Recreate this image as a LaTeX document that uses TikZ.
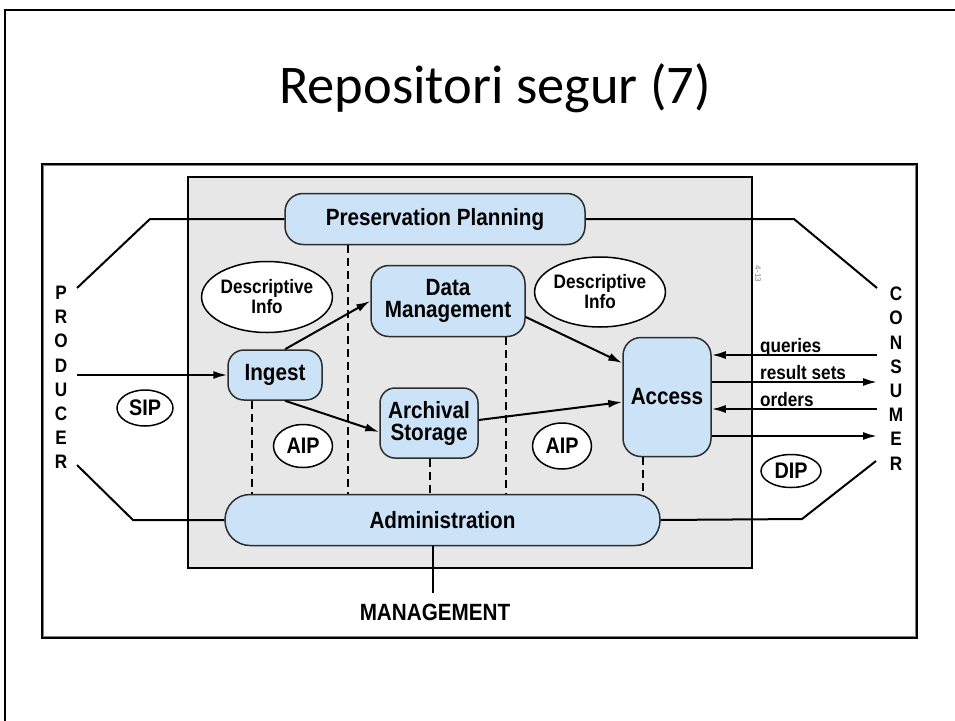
\documentclass[tikz,border=0pt]{standalone}
\usepackage{fontspec}
\setmainfont{Liberation Sans}
\newfontfamily\dfont{Liberation Sans}[FakeStretch=0.88]
\newfontfamily\titlefont{Carlito}
\usetikzlibrary{shapes.geometric,arrows.meta}
\definecolor{boxblue}{RGB}{204,226,246}
\definecolor{panelgray}{RGB}{231,231,231}
\definecolor{edgegray}{RGB}{45,45,45}
\tikzset{
  func/.style={draw=edgegray, line width=1.5pt, fill=boxblue, align=center,
    font={\dfont\bfseries\fontsize{23.5}{22}\selectfont}, inner sep=0pt},
  info/.style={ellipse, draw=black, line width=1.5pt, fill=white, inner sep=0pt,
    align=center, font={\dfont\bfseries\fontsize{22.5}{20}\selectfont}},
  dinfo/.style={info, font={\dfont\bfseries\fontsize{19.5}{20}\selectfont}},
  letters/.style={align=center, inner sep=0pt, font={\dfont\bfseries\fontsize{19.5}{24.2}\selectfont}},
  lbl/.style={inner sep=0pt, font={\dfont\bfseries\fontsize{19.5}{19}\selectfont}},
  conn/.style={line width=2pt, draw=black},
  arr/.style={conn, -{Latex[length=14pt,width=8pt]}},
  dashv/.style={line width=2pt, dash pattern=on 8pt off 5pt},
}
\begin{document}
\begin{tikzpicture}[x=1pt,y=-1pt]
\path[use as bounding box] (0,0) rectangle (955,720);
% slide frame
\draw[line width=2.5pt] (5,730) -- (5,10) -- (965,10);
% title
\node[font={\titlefont\fontsize{54.5}{60}\selectfont}, anchor=base, inner sep=0pt] (title) at (495,103) {Repositori segur (7)};
% picture frame
\draw[line width=2pt] (42,164) rectangle (917,638);
\draw[gray, line width=1.3pt] (43.8,165.8) rectangle (915.2,636.2);
% gray panel
\draw[line width=2pt, fill=panelgray] (188,177) rectangle (752,568);
\node[font={\fontsize{8}{8}\selectfont}, rotate=-90, text=gray, inner sep=0pt] (fig) at (758,274) {4-13};

% functional entities
\node[func, rounded corners=18pt, minimum width=300pt, minimum height=51pt] (pp) at (435,219) {Preservation Planning};
\node[func, rounded corners=18pt, minimum width=154pt, minimum height=71pt] (dm) at (448,301) {Data\\Management};
\node[func, rounded corners=16pt, minimum width=94pt, minimum height=50pt] (ing) at (275,375) {Ingest};
\node[func, rounded corners=15pt, minimum width=98pt, minimum height=70pt] (as) at (429,423) {Archival\\Storage};
\node[func, rounded corners=18pt, minimum width=88pt, minimum height=119pt] (acc) at (667,397) {Access};
\node[func, rounded corners=25pt, minimum width=435pt, minimum height=51pt] (adm) at (442.5,520) {Administration};

% information packages
\node[dinfo, minimum width=117pt, minimum height=71pt] (di1) at (267,297) {Descriptive\\Info};
\node[dinfo, minimum width=119pt, minimum height=70pt] (di2) at (600,292) {Descriptive\\Info};
\node[info, minimum width=56pt, minimum height=36pt] (sip) at (145,408) {SIP};
\node[info, minimum width=59pt, minimum height=43pt] (aip1) at (303,446) {AIP};
\node[info, minimum width=59pt, minimum height=46pt] (aip2) at (562,446) {AIP};
\node[info, minimum width=60pt, minimum height=33pt] (dip) at (791,471) {DIP};

% producer / consumer
\node[letters] (prod) at (61,377.5) {P\\R\\O\\D\\U\\C\\E\\R};
\node[letters] (cons) at (896,378.5) {C\\O\\N\\S\\U\\M\\E\\R};

% management
\node[font={\dfont\bfseries\fontsize{23.5}{24}\selectfont}, inner sep=0pt] (mgmt) at (435,612) {MANAGEMENT};
\coordinate (mgtop) at (433,593);

% free ends
\coordinate (pl1) at (150,219);
\coordinate (pl2) at (77,288);
\coordinate (pr1) at (794,219);
\coordinate (pr2) at (877,288);
\coordinate (al1) at (133,520);
\coordinate (al2) at (77,465);
\coordinate (ar1) at (802,519);
\coordinate (ar2) at (876,461);
\coordinate (pin) at (77,375);
\coordinate (cq) at (877,355);
\coordinate (cr) at (877,382);
\coordinate (co) at (877,409);
\coordinate (cd) at (877,436);

% outer connectors
\draw[conn] (pp.west) -- (pl1) -- (pl2);
\draw[conn] (pp.east) -- (pr1) -- (pr2);
\draw[conn] (adm.west) -- (al1) -- (al2);
\draw[conn] (adm.east) -- (ar1) -- (ar2);
\draw[arr] (pin) -- (ing.west);
\draw[conn] ([xshift=-9.5pt]adm.south) -- (mgtop);

% internal flows
\draw[arr] ([xshift=10pt]ing.north) -- (dm.west);
\draw[arr] ([xshift=10pt]ing.south) -- ([yshift=-9pt]as.west);
\draw[arr] ([yshift=-16pt]dm.east) -- ([yshift=34pt]acc.west);
\draw[arr] ([yshift=3pt]as.east) -- ([yshift=-5pt]acc.west);

% consumer flows
\draw[arr] (cq) -- ([yshift=42pt]acc.east);
\draw[arr] ([yshift=15pt]acc.east) -- (cr);
\draw[arr] (co) -- ([yshift=-12pt]acc.east);
\draw[arr] ([yshift=-39pt]acc.east) -- (cd);
\node[lbl, anchor=base west] (lq) at (760,352) {queries};
\node[lbl, anchor=base west] (lr) at (760,379) {result sets};
\node[lbl, anchor=base west] (lo) at (760,406) {orders};

% dashed links to administration
\draw[dashv] ([xshift=-23pt]ing.south) -- ([xshift=-23pt]ing.south |- adm.north);
\draw[dashv] ([xshift=-87pt]pp.south) -- ([xshift=-87pt]pp.south |- adm.north);
\draw[dashv] ([xshift=58pt]dm.south) -- ([xshift=58pt]dm.south |- adm.north);
\draw[dashv] ([xshift=1pt]as.south) -- ([xshift=1pt]as.south |- adm.north);
\draw[dashv] ([xshift=-24pt]acc.south) -- ([xshift=-24pt]acc.south |- adm.north);
\end{tikzpicture}
\end{document}
